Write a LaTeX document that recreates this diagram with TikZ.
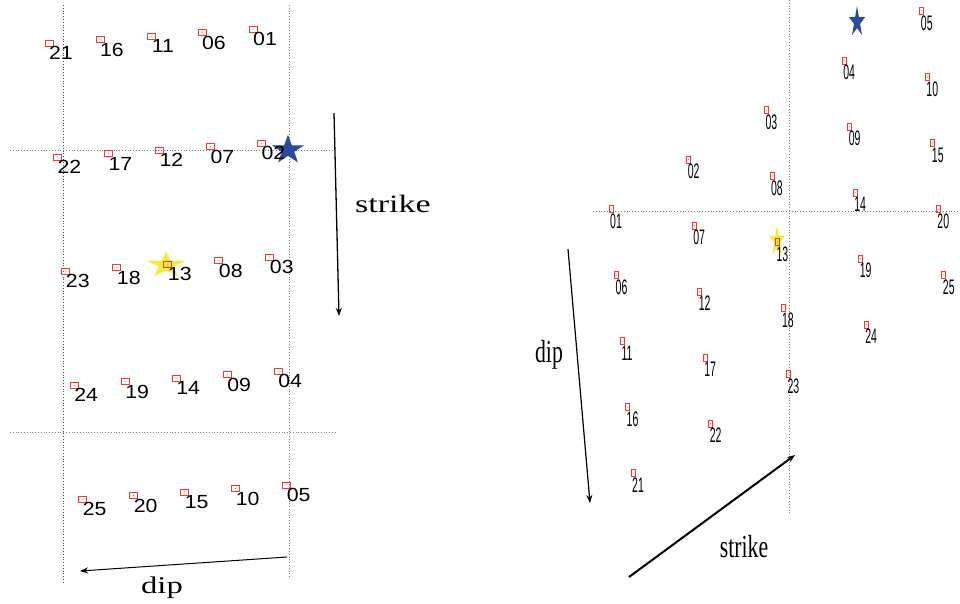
\documentclass[tikz,border=0pt]{standalone}
\usepackage{fontspec}
\setmainfont{Liberation Serif}
\newfontfamily\widesans[FakeStretch=1.12]{Liberation Sans}
\newfontfamily\narrowsans[FakeStretch=0.5]{Liberation Sans}
\newfontfamily\wideserif[FakeStretch=1.36]{Liberation Serif}
\newfontfamily\narrowserif[FakeStretch=0.68]{Liberation Serif}
\usetikzlibrary{arrows.meta,calc,shapes.geometric}
\definecolor{Hypo}{HTML}{2B4A9A}
\definecolor{Epi}{HTML}{F2EC3C}
\colorlet{sqcol}{red!80}

\begin{document}
\begin{tikzpicture}[x=1pt,y=-1pt,
  grid/.style={gray,dotted,line width=.8pt},
  lsq/.style={draw=sqcol,line width=.9pt,minimum width=8pt,minimum height=6pt,inner sep=0pt,
    path picture={\fill[sqcol] (path picture bounding box.center) circle (.5pt);}},
  rsq/.style={lsq,line width=.8pt,minimum width=4pt,minimum height=7pt},
  lnum/.style={font=\widesans\fontsize{19}{19}\selectfont,inner sep=0pt},
  rnum/.style={font=\narrowsans\fontsize{21}{21}\selectfont,inner sep=0pt},
  shot/.style={star,star points=5,star point ratio=2.618,inner sep=0pt,transform shape},
  axis/.style={-{Stealth[length=8pt,width=6pt]},line width=1.3pt}]
    \useasboundingbox (0,0) rectangle (960,603);
    % left panel
    \draw[grid,black!70] (63,5)--(63,583);
    \draw[grid] (289,5)--(289,579);
    \draw[grid] (10,150)--(333,150);
    \draw[grid] (10,432)--(335,432);
    \begin{scope}[shift={(288,150)},yscale=.9]
      \node[shot,fill=Hypo,minimum size=34pt] (Lhypo) {};
    \end{scope}
    \begin{scope}[shift={(166,265)},yscale=.69]
      \node[shot,fill=Epi,minimum size=40pt] (Lepi) {};
    \end{scope}
    \foreach \c in {0,...,4}{\foreach \r in {0,...,4}{
      \pgfmathtruncatemacro\n{5*\c+\r+1}
      \node[lsq] (L\n) at ({253-51*\c+8.4*\r},{29+3.5*\c+114*\r}) {};
      \node[lnum] (Lt\n) at ($(L\n)+(12,10)$) {\ifnum\n<10 0\fi\n};
    }}
    \coordinate (Ls0) at (334,113); \coordinate (Ls1) at (339,316);
    \draw[axis] (Ls0)--(Ls1);
    \node[anchor=base,font=\wideserif\fontsize{25}{25}\selectfont] (Lstrike) at (393,212) {strike};
    \coordinate (Ld0) at (287,557); \coordinate (Ld1) at (80,571);
    \draw[axis,line width=1pt] (Ld0)--(Ld1);
    \node[anchor=base,font=\wideserif\fontsize{24}{24}\selectfont] (Ldip) at (162,593) {dip};
    % right panel
    \draw[grid] (789,0)--(789,513);
    \draw[grid] (593,211)--(960,211);
    \begin{scope}[shift={(857,22)},xscale=.53]
      \node[shot,fill=Hypo,minimum size=32pt] (Rhypo) {};
    \end{scope}
    \begin{scope}[shift={(777,241)},xscale=.48]
      \node[shot,fill=Epi,minimum size=33pt] (Repi) {};
    \end{scope}
    \foreach \c in {0,...,4}{\foreach \r in {0,...,4}{
      \pgfmathtruncatemacro\n{5*\c+\r+1}
      \node[rsq] (R\n) at ({611+77.7*\r+5.5*\c},{209-49.5*\r+66*\c}) {};
      \node[rnum] (Rt\n) at ($(R\n)+(5,12)$) {\ifnum\n<10 0\fi\n};
    }}
    \coordinate (Rd0) at (568,249); \coordinate (Rd1) at (590,503);
    \draw[axis,line width=1.2pt] (Rd0)--(Rd1);
    \node[anchor=base,font=\narrowserif\fontsize{32}{32}\selectfont] (Rdip) at (549,362) {dip};
    \coordinate (Rs0) at (629,577); \coordinate (Rs1) at (795,455);
    \draw[axis,line width=2pt] (Rs0)--(Rs1);
    \node[anchor=base,font=\narrowserif\fontsize{32}{32}\selectfont] (Rstrike) at (744,557) {strike};
  \end{tikzpicture}
\end{document}
